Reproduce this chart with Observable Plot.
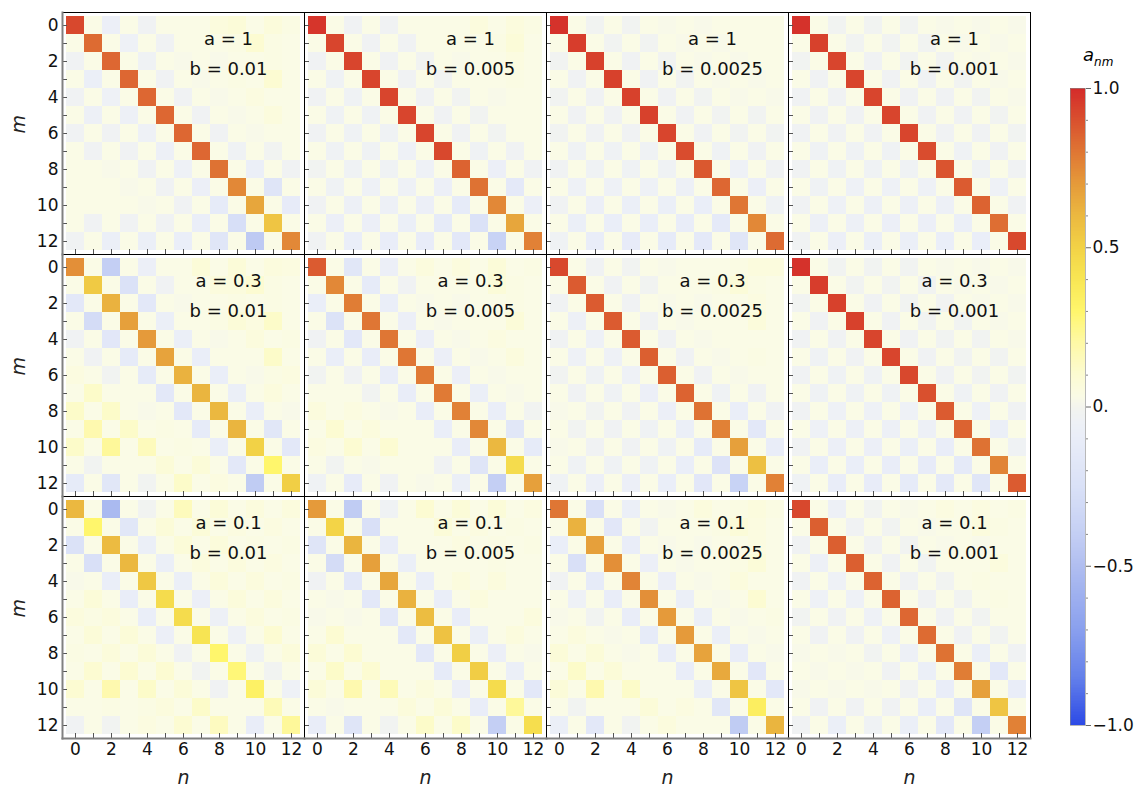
<!DOCTYPE html>
<html><head><meta charset="utf-8">
<script src="https://cdn.jsdelivr.net/npm/d3@7"></script>
<script src="https://cdn.jsdelivr.net/npm/@observablehq/plot@0.6"></script>
<style>
body{margin:0;background:#fff;font-family:"DejaVu Sans",sans-serif}
#wrap{position:relative;width:1137px;height:789px;overflow:hidden;background:#fff}
#wrap svg{position:absolute;top:0}
#title{position:absolute;left:1083px;top:44px;font-size:18px;font-style:italic;font-family:"DejaVu Sans",sans-serif}
#title sub{font-size:12px}
</style></head><body><div id="wrap"><div id="title">a<sub>nm</sub></div></div>
<script>
const aValues = [1, 0.3, 0.1];
const bValues = [0.01, 0.005, 0.0025, 0.001];
const indices = [0,1,2,3,4,5,6,7,8,9,10,11,12];
const tickLabels = [0,2,4,6,8,10,12];
const cbTicks = [-1,-0.5,0,0.5,1];
const cbTickLabels = ["−1.0","−0.5","0.","0.5","1.0"];
const cbMinor = [-0.9,-0.8,-0.7,-0.6,-0.4,-0.3,-0.2,-0.1,0.1,0.2,0.3,0.4,0.6,0.7,0.8,0.9];
const colorDomain = [-1,-0.85,-0.7,-0.5,-0.4,-0.25,-0.1,-0.05,0,0.03,0.1,0.2,0.3,0.4,0.5,0.6,0.7,0.8,0.9,1];
const colorRange = ["#2c4ae6","#6480ea","#8aa0ee","#b0bef0","#c4cff4","#dae1f7","#e9edf8","#eef1f6","#f3f4ee","#fafbe6","#fcfbd2","#fef9a6","#fff66c","#f8e654","#f2d246","#ebb840","#e59a3a","#df7634","#d9502e","#d42a2a"];

// a = 1
const p_a1_b0100 = [
[.92,.03,-.07,.03,-.03,.03,.03,.03,.06,.08,.03,.07,.04],
[.03,.83,.03,-.05,.03,-.03,.03,.03,.03,.04,.1,.04,.03],
[-.03,.03,.84,.03,-.04,.03,.02,.03,.02,.03,.03,.04,.03],
[.03,-.08,.03,.84,.03,-.03,.03,.02,.03,.04,.03,.1,.03],
[-.03,.03,-.05,.03,.84,.03,-.03,.03,.02,.03,.05,.03,.03],
[.03,-.06,.03,-.06,.03,.84,.03,-.03,.03,.02,.03,.06,.03],
[-.03,.03,-.03,.03,-.05,.03,.84,.03,-.03,.03,.02,.03,.03],
[.03,-.03,.03,-.03,.03,-.06,.03,.84,.03,-.04,.03,-.02,.03],
[.03,.03,.02,.03,-.03,.03,-.05,.03,.81,.03,-.08,.03,-.03],
[.03,.03,.03,.02,.03,-.03,.03,-.07,.03,.75,.03,-.2,.03],
[.03,.03,.03,.03,.02,.03,-.03,.03,-.13,.03,.66,.03,-.12],
[.03,-.03,.03,-.03,.03,-.03,.03,-.09,.03,-.27,.03,.55,.03],
[-.03,.03,-.08,.03,-.08,.03,-.09,.03,-.19,.03,-.43,.03,.75]];
const p_a1_b0050 = [
[.97,.03,-.03,.03,-.03,.03,.03,.03,.03,.06,.03,.06,.04],
[.03,.93,.03,-.03,.03,-.03,.03,.03,.03,.03,.04,.08,.03],
[-.03,.03,.93,.03,-.03,.03,-.02,.03,.02,.03,.03,.05,.03],
[.03,-.04,.03,.93,.03,-.03,.03,-.02,.03,.03,.03,.04,.03],
[-.03,.03,-.04,.03,.93,.03,-.03,.03,-.02,.03,.02,.03,.03],
[.03,-.04,.03,-.04,.03,.93,.03,-.03,.03,-.02,.03,.03,.03],
[-.03,.03,-.04,.03,-.04,.03,.93,.03,-.03,.03,-.02,.03,.03],
[.03,-.04,.03,-.04,.03,-.05,.03,.92,.03,-.04,.03,-.03,.03],
[-.02,.03,-.04,.03,-.04,.03,-.05,.03,.85,.03,-.07,.03,-.03],
[.03,-.04,.03,-.05,.03,-.05,.03,-.07,.03,.81,.03,-.15,.03],
[-.03,.03,-.06,.03,-.06,.03,-.07,.03,-.13,.03,.75,.03,-.07],
[.03,-.07,.03,-.07,.03,-.08,.03,-.13,.03,-.24,.03,.66,.03],
[-.03,.03,-.09,.03,-.1,.03,-.11,.03,-.16,.03,-.37,.03,.77]];
const p_a1_b0025 = [
[.98,.03,-.02,.03,-.02,.03,.02,.03,.02,.03,.03,.03,.03],
[.03,.95,.03,-.02,.03,-.02,.03,.02,.03,.02,.03,.03,.03],
[-.02,.03,.94,.03,-.03,.03,-.02,.03,.02,.03,.02,.03,.03],
[.03,-.03,.03,.94,.03,-.03,.03,-.02,.03,.02,.03,.02,.03],
[-.02,.03,-.03,.03,.94,.03,-.03,.03,-.02,.03,.02,.03,.02],
[.03,-.03,.03,-.03,.03,.94,.03,-.03,.03,-.02,.03,-.02,.03],
[-.02,.03,-.03,.03,-.03,.03,.93,.03,-.03,.03,-.02,.03,-.02],
[.03,-.04,.03,-.04,.03,-.04,.03,.91,.03,-.04,.03,-.03,.03],
[-.03,.03,-.04,.03,-.04,.03,-.04,.03,.88,.03,-.05,.03,-.03],
[.03,-.05,.03,-.05,.03,-.05,.03,-.06,.03,.84,.03,-.07,.03],
[-.03,.03,-.07,.03,-.08,.03,-.08,.03,-.09,.03,.8,.03,-.04],
[.03,-.08,.03,-.09,.03,-.09,.03,-.1,.03,-.14,.03,.75,.03],
[-.04,.03,-.1,.03,-.12,.03,-.13,.03,-.15,.03,-.19,.03,.83]];
const p_a1_b0010 = [
[.98,.03,-.02,.03,-.02,.03,-.02,.03,.02,.03,.02,.03,.02],
[.03,.94,.03,-.02,.03,-.02,.03,-.02,.03,.02,.03,.02,.03],
[-.02,.03,.93,.03,-.03,.03,-.02,.03,-.02,.03,.02,.03,.02],
[.03,-.03,.03,.93,.03,-.03,.03,-.03,.03,-.02,.03,.02,.03],
[-.03,.03,-.03,.03,.93,.03,-.03,.03,-.03,.03,-.02,.03,.02],
[.03,-.03,.03,-.03,.03,.93,.03,-.03,.03,-.03,.03,-.02,.03],
[-.03,.03,-.03,.03,-.03,.03,.93,.03,-.03,.03,-.03,.03,-.02],
[.03,-.04,.03,-.04,.03,-.04,.03,.91,.03,-.04,.03,-.03,.03],
[-.03,.03,-.04,.03,-.04,.03,-.04,.03,.89,.03,-.04,.03,-.03],
[.03,-.04,.03,-.05,.03,-.05,.03,-.05,.03,.87,.03,-.05,.03],
[-.03,.03,-.05,.03,-.06,.03,-.06,.03,-.06,.03,.85,.03,-.03],
[.03,-.06,.03,-.06,.03,-.07,.03,-.07,.03,-.08,.03,.82,.03],
[-.03,.03,-.07,.03,-.08,.03,-.08,.03,-.09,.03,-.09,.03,.92]];
// a = 0.3
const p_a03_b0100 = [
[.73,.03,-.4,.03,-.07,.03,.03,.08,.03,.08,.03,.06,.05],
[.03,.53,.03,-.24,.03,-.03,.03,.03,.06,.06,.1,.04,.03],
[-.16,.03,.62,.03,-.16,.03,.02,.03,.03,.04,.03,.04,.03],
[.03,-.29,.03,.68,.03,-.08,.03,.03,.04,.08,.05,.12,.03],
[-.03,.03,-.17,.03,.7,.03,-.08,.03,.02,.03,.06,.03,.04],
[.03,-.03,.03,-.13,.03,.67,.03,-.09,.03,.03,.03,.12,.03],
[.05,.03,-.02,.03,-.13,.03,.62,.03,-.09,.03,.02,.04,.05],
[.03,.12,.03,.03,.03,-.16,.03,.61,.03,-.08,.03,.06,.03],
[.12,.03,.12,.03,.02,.03,-.16,.03,.6,.03,-.09,.03,.02],
[.03,.18,.03,.12,.03,.04,.03,-.13,.03,.61,.03,-.18,.03],
[.12,.03,.22,.03,.15,.03,.04,.03,-.09,.03,.5,.03,-.16],
[.03,-.02,.03,.03,.03,.08,.03,.08,.03,-.16,.03,.3,.03],
[-.13,.03,-.18,.03,-.02,.03,.12,.03,.05,.03,-.42,.03,.51]];
const p_a03_b0050 = [
[.87,.03,-.18,.03,-.07,.03,.06,.03,.06,.03,.08,.03,.04],
[.03,.75,.03,-.13,.03,-.03,.03,.03,.03,.03,.08,.04,.03],
[-.09,.03,.78,.03,-.09,.03,.02,.03,.02,.03,.03,.04,.03],
[.03,-.23,.03,.8,.03,-.07,.03,.02,.03,.03,.03,.08,.03],
[-.03,.03,-.16,.03,.8,.03,-.07,.03,.02,.03,.05,.03,.03],
[.03,-.09,.03,-.1,.03,.8,.03,-.07,.03,.02,.03,.06,.03],
[-.02,.03,-.03,.03,-.1,.03,.79,.03,-.07,.03,.02,.03,.03],
[.03,.03,.03,-.02,.03,-.1,.03,.79,.03,-.08,.03,.02,.03],
[.06,.03,.05,.03,.02,.03,-.1,.03,.77,.03,-.09,.03,-.02],
[.03,.1,.03,.06,.03,.03,.03,-.09,.03,.75,.03,-.18,.03],
[.05,.03,.1,.03,.1,.03,.03,.03,-.1,.03,.6,.03,-.13],
[.03,-.02,.03,.02,.03,.03,.03,-.03,.03,-.2,.03,.45,.03],
[-.04,.03,-.12,.03,-.03,.03,.02,.03,-.08,.03,-.4,.03,.68]];
const p_a03_b0025 = [
[.92,.03,-.03,.03,-.02,.03,.02,.03,.03,.03,.04,.06,.06],
[.03,.87,.03,-.03,.03,-.02,.03,.03,.03,.04,.08,.04,.03],
[-.03,.03,.87,.03,-.03,.03,.02,.03,.02,.03,.03,.05,.03],
[.03,-.06,.03,.87,.03,-.03,.03,.02,.03,.03,.03,.07,.03],
[-.03,.03,-.05,.03,.87,.03,-.03,.03,.02,.03,.03,.03,.03],
[.03,-.05,.03,-.05,.03,.86,.03,-.03,.03,.02,.03,.04,.03],
[-.02,.03,-.04,.03,-.05,.03,.86,.03,-.03,.03,.02,.03,.03],
[.03,-.03,.03,-.04,.03,-.07,.03,.85,.03,-.04,.03,-.03,.03],
[.02,.03,-.02,.03,-.03,.03,-.07,.03,.81,.03,-.09,.03,-.03],
[.03,-.02,.03,-.03,.03,-.04,.03,-.08,.03,.77,.03,-.16,.03],
[.02,.03,-.03,.03,-.03,.03,-.04,.03,-.13,.03,.68,.03,-.1],
[.03,-.04,.03,-.04,.03,-.04,.03,-.09,.03,-.22,.03,.57,.03],
[-.04,.03,-.07,.03,-.07,.03,-.09,.03,-.17,.03,-.37,.03,.77]];
const p_a03_b0010 = [
[.98,.03,-.02,.03,-.02,.03,-.02,.03,.02,.03,.02,.03,.02],
[.03,.95,.03,-.02,.03,-.02,.03,-.02,.03,.02,.03,.02,.03],
[-.02,.03,.94,.03,-.03,.03,-.02,.03,-.02,.03,.02,.03,.02],
[.03,-.03,.03,.94,.03,-.03,.03,-.02,.03,-.02,.03,.02,.03],
[-.03,.03,-.03,.03,.93,.03,-.03,.03,-.02,.03,-.02,.03,.02],
[.03,-.04,.03,-.03,.03,.93,.03,-.03,.03,-.02,.03,-.02,.03],
[-.03,.03,-.04,.03,-.04,.03,.92,.03,-.03,.03,-.02,.03,-.02],
[.03,-.04,.03,-.04,.03,-.04,.03,.9,.03,-.04,.03,-.03,.03],
[-.03,.03,-.05,.03,-.05,.03,-.05,.03,.87,.03,-.05,.03,-.03],
[.03,-.05,.03,-.06,.03,-.06,.03,-.06,.03,.85,.03,-.08,.03],
[-.03,.03,-.07,.03,-.07,.03,-.08,.03,-.1,.03,.81,.03,-.04],
[.03,-.09,.03,-.09,.03,-.1,.03,-.12,.03,-.14,.03,.76,.03],
[-.04,.03,-.1,.03,-.11,.03,-.13,.03,-.15,.03,-.19,.03,.87]];
// a = 0.1
const p_a01_b0100 = [
[.6,.03,-.53,.03,-.02,.03,.15,.03,.08,.03,.06,.03,.06],
[.03,.3,.03,-.18,.03,.08,.03,.08,.03,.05,.03,.05,.03],
[-.24,.03,.59,.03,-.08,.03,.08,.03,.07,.03,.04,.03,.04],
[.03,-.26,.03,.6,.03,-.08,.03,.06,.03,.06,.03,.05,.03],
[.02,.03,-.09,.03,.54,.03,-.08,.03,.07,.03,.06,.03,.04],
[.03,.08,.03,-.1,.03,.45,.03,-.07,.03,.07,.03,.06,.03],
[.06,.04,.06,.03,-.09,.03,.45,.03,-.06,.03,.06,.03,.04],
[.03,.08,.03,.08,.03,-.07,.03,.41,.03,-.05,.03,.1,.03],
[.04,.03,.07,.03,.08,.03,-.03,.03,.3,.03,-.04,.03,.07],
[.03,.1,.03,.1,.03,.1,.03,-.02,.03,.28,.03,-.02,.03],
[.1,.03,.18,.03,.12,.03,.08,.03,-.03,.03,.33,.03,-.05],
[.03,.03,.04,.03,.04,.06,.03,.12,.03,.03,.03,.16,.03],
[-.03,.03,-.02,.03,.05,.03,.1,.03,.14,.03,-.1,.03,.22]];
const p_a01_b0050 = [
[.7,.03,-.42,.03,-.04,.03,.1,.03,.08,.03,.08,.03,.05],
[.03,.49,.03,-.26,.03,.03,.03,.08,.03,.05,.03,.04,.03],
[-.2,.03,.61,.03,-.1,.03,.03,.03,.05,.03,.04,.03,.04],
[.03,-.29,.03,.68,.03,-.08,.03,.03,.03,.03,.04,.03,.03],
[-.03,.03,-.16,.03,.66,.03,-.09,.03,.06,.03,.06,.03,.03],
[.03,.02,.03,-.16,.03,.62,.03,-.09,.03,.06,.03,.03,.03],
[.02,.03,.02,.03,-.16,.03,.58,.03,-.1,.03,.03,.03,.06],
[.03,.1,.03,.03,.03,-.16,.03,.56,.03,-.08,.03,.06,.03],
[.08,.03,.1,.03,.03,.03,-.16,.03,.51,.03,-.07,.03,.02],
[.03,.12,.03,.1,.03,.03,.03,-.13,.03,.52,.03,-.08,.03],
[.08,.03,.18,.03,.16,.03,.06,.03,-.07,.03,.45,.03,-.16],
[.03,.02,.03,.03,.03,.07,.03,.08,.03,-.1,.03,.22,.03],
[-.1,.03,-.2,.03,-.02,.03,.12,.03,.12,.03,-.4,.03,.44]];
const p_a01_b0025 = [
[.8,.03,-.26,.03,-.08,.03,.02,.03,.06,.03,.04,.06,.04],
[.03,.62,.03,-.17,.03,-.02,.03,.03,.03,.04,.08,.05,.03],
[-.09,.03,.68,.03,-.1,.03,.02,.03,.02,.03,.03,.05,.03],
[.03,-.26,.03,.73,.03,-.07,.03,.02,.03,.03,.04,.08,.03],
[-.03,.03,-.13,.03,.76,.03,-.07,.03,.02,.03,.06,.03,.03],
[.03,-.05,.03,-.1,.03,.73,.03,-.08,.03,.02,.03,.1,.03],
[.02,.03,-.02,.03,-.1,.03,.7,.03,-.08,.03,.02,.03,.04],
[.03,.06,.03,.02,.03,-.13,.03,.7,.03,-.08,.03,.02,.03],
[.08,.03,.08,.03,.02,.03,-.1,.03,.67,.03,-.1,.03,.02],
[.03,.12,.03,.08,.03,.03,.03,-.1,.03,.65,.03,-.17,.03],
[.08,.03,.18,.03,.12,.03,.03,.03,-.08,.03,.55,.03,-.16],
[.03,-.02,.03,.03,.03,.08,.03,.05,.03,-.18,.03,.35,.03],
[-.08,.03,-.16,.03,-.02,.03,.06,.03,.03,.03,-.42,.03,.61]];
const p_a01_b0010 = [
[.92,.03,-.06,.03,-.02,.03,.02,.03,.05,.03,.05,.03,.04],
[.03,.86,.03,-.03,.03,-.02,.03,.02,.03,.03,.06,.04,.03],
[-.03,.03,.86,.03,-.03,.03,-.02,.03,.02,.03,.02,.03,.03],
[.03,-.06,.03,.86,.03,-.03,.03,-.02,.03,.03,.03,.06,.03],
[-.03,.03,-.05,.03,.85,.03,-.03,.03,-.02,.03,.04,.03,.03],
[.03,-.05,.03,-.05,.03,.85,.03,-.03,.03,-.02,.03,.04,.03],
[-.02,.03,-.03,.03,-.05,.03,.84,.03,-.03,.03,-.02,.03,.03],
[.03,-.03,.03,-.03,.03,-.05,.03,.83,.03,-.03,.03,-.02,.03],
[.02,.03,.02,.03,-.02,.03,-.06,.03,.81,.03,-.08,.03,-.03],
[.03,.02,.03,.02,.03,-.03,.03,-.08,.03,.78,.03,-.16,.03],
[.02,.03,.02,.03,.02,.03,-.03,.03,-.1,.03,.68,.03,-.1],
[.03,-.03,.03,-.03,.03,-.03,.03,-.09,.03,-.2,.03,.55,.03],
[-.03,.03,-.08,.03,-.04,.03,-.08,.03,-.16,.03,-.4,.03,.77]];

const panels = [
  [p_a1_b0100, p_a1_b0050, p_a1_b0025, p_a1_b0010],
  [p_a03_b0100, p_a03_b0050, p_a03_b0025, p_a03_b0010],
  [p_a01_b0100, p_a01_b0050, p_a01_b0025, p_a01_b0010]
];

const cells = [];
aValues.forEach((a, i) => bValues.forEach((b, j) =>
  panels[i][j].forEach((row, m) => row.forEach((v, n) => cells.push({a, b, m, n, v})))));
const panelLabels = [];
aValues.forEach(a => bValues.forEach(b => panelLabels.push({a, b})));

const colorScale = {type: "linear", domain: colorDomain, range: colorRange, interpolate: "rgb"};
const FONT = "DejaVu Sans";

const main = Plot.plot({
  width: 1040, height: 789,
  marginLeft: 62, marginRight: 10, marginTop: 12, marginBottom: 51,
  style: {fontFamily: FONT, fontSize: "17px", background: "white", overflow: "visible"},
  fx: {domain: bValues, padding: 0, axis: null},
  fy: {domain: aValues, padding: 0, axis: null},
  x: {domain: indices, padding: 0, insetLeft: 4, insetRight: 4, axis: null},
  y: {domain: indices, padding: 0, insetTop: 4, insetBottom: 4, axis: null},
  color: colorScale,
  marks: [
    Plot.cell(cells, {fx: "b", fy: "a", x: "n", y: "m", fill: "v", inset: 0, shapeRendering: "crispEdges"}),
    Plot.axisX(indices, {tickSize: -5, text: null, facetAnchor: null, stroke: "#555", label: null}),
    Plot.axisY(indices, {tickSize: -5, text: null, facetAnchor: null, stroke: "#555", label: null}),
    Plot.axisX(tickLabels, {tickSize: 0, tickPadding: 4, fontSize: 17, fill: "#111", label: null}),
    Plot.axisY(tickLabels, {tickSize: 0, tickPadding: 4, fontSize: 17, fill: "#111", label: null}),
    Plot.frame({stroke: "black", strokeWidth: 1}),
    Plot.frame({anchor: "left", facetAnchor: "left", stroke: "#808080", strokeWidth: 2}),
    Plot.frame({anchor: "bottom", facetAnchor: "bottom", stroke: "#808080", strokeWidth: 2}),
    Plot.text(panelLabels, {fx: "b", fy: "a", frameAnchor: "top", dx: 45, dy: 27, lineAnchor: "middle",
      text: d => `a = ${d.a}`, fontSize: 18, fill: "#111"}),
    Plot.text(panelLabels, {fx: "b", fy: "a", frameAnchor: "top", dx: 45, dy: 57, lineAnchor: "middle",
      text: d => `b = ${d.b}`, fontSize: 18, fill: "#111"}),
    Plot.text(aValues.map(a => ({a, b: bValues[0]})), {fx: "b", fy: "a", frameAnchor: "left", dx: -44,
      rotate: -90, text: () => "m", fontStyle: "italic", fontSize: 19, fill: "#222"}),
    Plot.text(bValues.map(b => ({a: aValues[2], b})), {fx: "b", fy: "a", frameAnchor: "bottom", dy: 39,
      lineAnchor: "middle", text: () => "n", fontStyle: "italic", fontSize: 19, fill: "#222"})
  ]
});
main.style.left = "0px";
document.getElementById("wrap").appendChild(main);

const step = 0.005;
const ramp = d3.range(-1, 1, step);
const cb = Plot.plot({
  width: 97, height: 789,
  marginLeft: 30, marginRight: 52, marginTop: 88, marginBottom: 64,
  style: {fontFamily: FONT, fontSize: "17px", background: "transparent", overflow: "visible"},
  y: {domain: [-1, 1], axis: null},
  color: colorScale,
  marks: [
    Plot.rect(ramp, {y1: d => d, y2: d => Math.min(1, d + step * 1.5), fill: d => d + step / 2, shapeRendering: "crispEdges"}),
    Plot.frame({stroke: "#888", strokeOpacity: 0.6}),
    Plot.axisY(cbMinor, {anchor: "right", tickSize: 2, text: null, stroke: "#888", label: null}),
    Plot.axisY(cbTicks, {anchor: "right", tickSize: 5, tickPadding: 2, stroke: "#666",
      tickFormat: d => cbTickLabels[cbTicks.indexOf(d)], fontSize: 17, fill: "#111", label: null})
  ]
});
cb.style.left = "1040px";
document.getElementById("wrap").appendChild(cb);
</script></body></html>
